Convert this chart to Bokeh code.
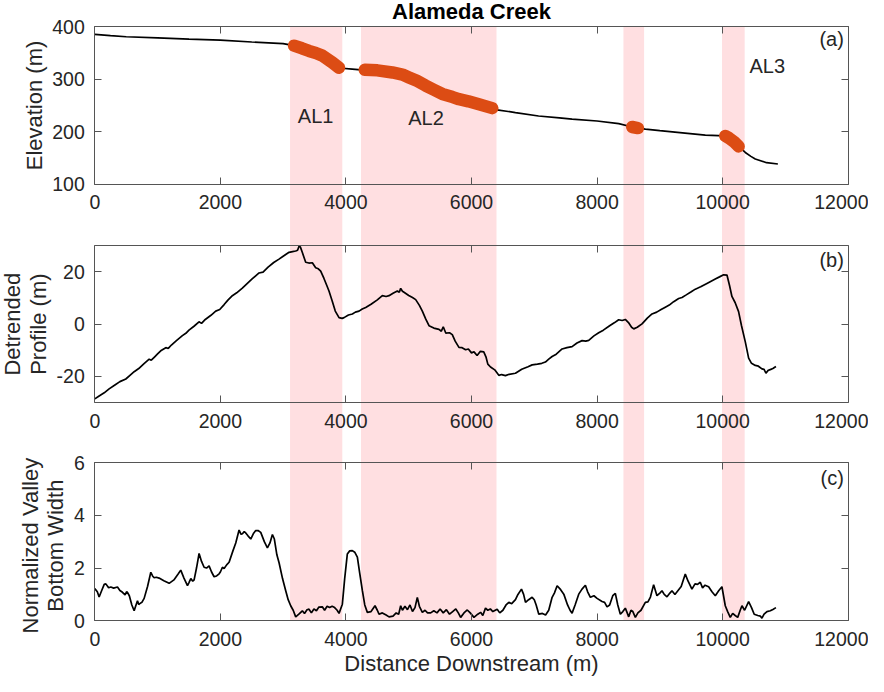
import math
from bokeh.plotting import figure
from bokeh.models import (Range1d, FixedTicker, LinearAxis, BoxAnnotation, Label)
from bokeh.embed import file_html
from bokeh.resources import INLINE

# ---------------- data ----------------
x_ticks = [0, 2000, 4000, 6000, 8000, 10000, 12000]
elev_ticks = [100, 200, 300, 400]
det_ticks = [-20, 0, 20]
vbw_ticks = [0, 2, 4, 6]

band_left = [3110, 4240, 8420, 9990]
band_right = [3942, 6398, 8749, 10351]

elev_x = [0, 250, 500, 1000, 1500, 2000, 2500, 3000, 3173, 3412, 3624, 3890, 3942,
          4100, 4240, 4300, 4740, 5000, 5270, 5540, 5800, 6120, 6330, 6405, 6700,
          7068, 7400, 7602, 8000, 8345, 8560, 8650, 8769, 9000, 9400, 9724, 10042,
          10150, 10255, 10361, 10450, 10520, 10700, 10880]
elev_y = [385.5, 383, 381, 379, 376.5, 374.5, 371, 368, 364, 354, 345, 322, 321,
          319.5, 318, 318, 313, 303, 288, 272, 262, 252, 244, 241.8, 236.5,
          230, 226.5, 224, 220.5, 215.5, 209, 207, 205, 202, 197.5, 193.5, 192,
          182, 172, 160.5, 153, 148, 141, 138.5]

al1_x = [3173, 3300, 3412, 3520, 3624, 3783, 3890]
al1_y = [364, 359, 354, 350, 345, 332, 322]
al2_x = [4300, 4500, 4740, 4900, 5004, 5130, 5268, 5400, 5534, 5700, 5800, 5950, 6118, 6330]
al2_y = [318, 317, 313, 309, 303.5, 297, 288, 280, 272, 266, 262, 258, 252.5, 245]
al3a_x = [8560, 8650]
al3a_y = [209, 207]
al3b_x = [10042, 10100, 10180, 10255]
al3b_y = [192, 188, 181, 172]

det_x = [0, 69, 150, 228, 320, 400, 494, 560, 627, 700, 780, 866, 900, 950, 1000,
         1050, 1131, 1170, 1220, 1300, 1395, 1450, 1500, 1580, 1660, 1700, 1760,
         1850, 1926, 1990, 2060, 2120, 2191, 2260, 2350, 2430, 2510, 2616, 2680,
         2760, 2850, 2934, 3000, 3094, 3150, 3200, 3230, 3253, 3275, 3306, 3359,
         3410, 3465, 3518, 3560, 3598, 3650, 3700, 3730, 3780, 3830, 3890, 3940,
         3970, 4040, 4103, 4150, 4209, 4260, 4315, 4400, 4500, 4580, 4640, 4686,
         4750, 4819, 4850, 4872, 4900, 4925, 5000, 5060, 5111, 5170, 5217, 5270,
         5323, 5400, 5482, 5520, 5550, 5590, 5650, 5694, 5740, 5800, 5850, 5906,
         5950, 6000, 6040, 6089, 6142, 6195, 6230, 6260, 6303, 6370, 6435, 6480,
         6541, 6600, 6700, 6800, 6900, 6966, 7050, 7120, 7177, 7230, 7284, 7350,
         7443, 7520, 7602, 7680, 7761, 7820, 7867, 7950, 8026, 8100, 8200, 8280,
         8344, 8400, 8450, 8500, 8550, 8584, 8640, 8716, 8800, 8875, 8950, 9020,
         9087, 9150, 9220, 9300, 9353, 9420, 9500, 9565, 9650, 9750, 9883, 9950,
         10016, 10069, 10110, 10148, 10200, 10254, 10300, 10361, 10414, 10460,
         10520, 10570, 10626, 10660, 10690, 10720, 10759, 10800, 10849]
det_y = [-28.6, -27.5, -26.3, -24.8, -23.3, -22.0, -21.0, -19.6, -18.2, -17.0, -15.2,
         -13.4, -13.8, -12.6, -11.4, -10.2, -9.0, -9.3, -8.0, -6.3, -4.4, -3.5, -2.3,
         -0.8, 0.9, 0.3, 1.8, 3.4, 5.0, 5.6, 7.5, 9.2, 10.9, 12.0, 13.8, 15.6, 17.4,
         19.6, 19.9, 21.8, 23.6, 24.9, 26.0, 27.5, 27.8, 28.0, 28.3, 29.8, 29.5, 27.4,
         23.7, 23.4, 23.5, 21.6, 21.2, 20.3, 17.5, 14.5, 12.7, 9.0, 5.0, 2.5, 2.2, 2.5,
         3.5, 3.9, 4.6, 5.0, 5.8, 6.4, 7.6, 9.3, 10.9, 10.6, 10.9, 11.8, 12.7, 12.2,
         13.7, 12.6, 12.2, 11.0, 10.2, 9.4, 7.2, 5.0, 2.0, -0.6, -1.5, -2.0, -2.7,
         -1.0, -3.4, -3.3, -4.0, -6.5, -8.9, -9.0, -9.8, -9.5, -11.0, -10.6, -12.0,
         -10.4, -10.6, -12.5, -15.3, -16.4, -17.5, -19.6, -19.3, -19.7, -19.2, -18.8,
         -17.3, -16.3, -15.6, -15.3, -15.0, -14.5, -13.4, -12.4, -11.5, -9.5, -9.0,
         -8.6, -7.2, -6.3, -6.5, -6.2, -4.5, -3.3, -2.3, -0.6, 0.6, 1.7, 1.4, 1.8,
         0.6, -1.2, -1.8, -1.2, 0.1, 2.3, 3.9, 4.6, 5.6, 6.5, 7.3, 8.6, 9.8, 10.2,
         11.2, 12.4, 13.4, 14.3, 15.6, 17.3, 18.1, 18.9, 18.8, 14.8, 10.6, 8.2, 4.8,
         -0.5, -6.8, -13.0, -15.0, -15.8, -16.1, -17.1, -17.3, -18.8, -17.8, -17.4,
         -17.0, -16.2]

vbw_x = [0, 40, 69, 110, 150, 176, 220, 255, 300, 361, 400, 441, 483, 505, 520, 550,
         590, 627, 650, 680, 700, 717, 750, 786, 840, 892, 920, 945, 980, 1024, 1100,
         1184, 1260, 1330, 1369, 1420, 1476, 1500, 1529, 1560, 1582, 1620, 1661, 1700,
         1741, 1780, 1820, 1860, 1900, 1940, 1980, 2000, 2033, 2060, 2100, 2139, 2200,
         2245, 2298, 2330, 2351, 2380, 2404, 2440, 2484, 2530, 2563, 2600, 2643, 2700,
         2749, 2790, 2829, 2860, 2900, 2935, 2990, 3041, 3080, 3120, 3160, 3200, 3250,
         3306, 3340, 3380, 3412, 3450, 3490, 3530, 3570, 3624, 3660, 3700, 3740, 3780,
         3820, 3860, 3890, 3943, 3980, 4022, 4060, 4102, 4140, 4182, 4220, 4262, 4300,
         4341, 4400, 4463, 4500, 4527, 4580, 4640, 4686, 4750, 4800, 4840, 4872, 4900,
         4940, 4980, 5020, 5060, 5100, 5137, 5170, 5217, 5260, 5300, 5350, 5400, 5450,
         5500, 5550, 5600, 5650, 5700, 5750, 5790, 5827, 5880, 5933, 5980, 6039, 6100,
         6145, 6180, 6223, 6260, 6300, 6340, 6409, 6450, 6500, 6550, 6595, 6640, 6700,
         6740, 6796, 6830, 6860, 6910, 6966, 7000, 7030, 7072, 7130, 7180, 7230, 7284,
         7320, 7364, 7420, 7470, 7530, 7570, 7602, 7650, 7708, 7760, 7814, 7850, 7894,
         7950, 8000, 8079, 8120, 8159, 8200, 8250, 8291, 8330, 8371, 8410, 8450, 8480,
         8504, 8540, 8570, 8610, 8650, 8700, 8769, 8810, 8850, 8901, 8954, 9000, 9034,
         9070, 9114, 9160, 9193, 9240, 9290, 9340, 9405, 9450, 9511, 9560, 9600, 9644,
         9680, 9720, 9777, 9830, 9883, 9940, 9989, 10042, 10080, 10122, 10160, 10200,
         10240, 10280, 10308, 10350, 10414, 10460, 10503, 10560, 10600, 10626, 10660,
         10706, 10760, 10800, 10849]
vbw_y = [1.22, 1.10, 0.90, 1.15, 1.38, 1.40, 1.25, 1.28, 1.24, 1.28, 1.15, 1.08, 0.98,
         1.10, 1.08, 0.95, 0.60, 0.38, 0.55, 0.76, 0.62, 0.65, 0.70, 0.85, 1.30, 1.84,
         1.70, 1.63, 1.65, 1.62, 1.52, 1.42, 1.55, 1.78, 1.92, 1.62, 1.33, 1.45, 1.60,
         1.50, 1.55, 2.00, 2.55, 2.25, 2.03, 2.00, 2.08, 1.85, 1.67, 1.70, 1.78, 1.85,
         2.03, 1.98, 2.12, 2.22, 2.65, 2.95, 3.44, 3.28, 3.30, 3.38, 3.33, 3.22, 3.10,
         3.32, 3.42, 3.42, 3.35, 3.00, 2.76, 2.95, 3.27, 3.10, 2.50, 2.20, 1.60, 1.14,
         0.80, 0.57, 0.40, 0.15, 0.25, 0.38, 0.28, 0.42, 0.44, 0.30, 0.45, 0.38, 0.52,
         0.53, 0.40, 0.55, 0.50, 0.55, 0.50, 0.40, 0.28, 0.63, 1.60, 2.53, 2.65, 2.66,
         2.60, 2.41, 1.80, 1.14, 0.60, 0.32, 0.35, 0.57, 0.40, 0.25, 0.30, 0.22, 0.15,
         0.18, 0.30, 0.25, 0.57, 0.40, 0.55, 0.42, 0.60, 0.35, 0.50, 0.89, 0.55, 0.32,
         0.40, 0.30, 0.30, 0.38, 0.30, 0.45, 0.30, 0.42, 0.25, 0.35, 0.45, 0.30, 0.13,
         0.30, 0.41, 0.30, 0.13, 0.25, 0.32, 0.20, 0.48, 0.40, 0.45, 0.35, 0.44, 0.30,
         0.40, 0.60, 0.70, 0.65, 0.80, 1.00, 1.20, 1.00, 0.70, 0.80, 0.89, 0.80, 0.60,
         0.25, 0.28, 0.22, 0.40, 0.89, 1.05, 1.33, 1.18, 1.01, 0.60, 0.40, 0.29, 0.60,
         1.01, 1.20, 1.35, 1.10, 0.89, 0.95, 0.85, 0.73, 0.70, 0.53, 0.60, 0.95, 1.04,
         0.60, 0.25, 0.35, 0.48, 0.30, 0.15, 0.40, 0.35, 0.13, 0.30, 0.40, 0.70, 0.72,
         0.90, 1.37, 0.95, 1.05, 1.14, 1.00, 0.91, 1.05, 1.14, 1.00, 1.15, 1.30, 1.77,
         1.50, 1.20, 1.40, 1.38, 1.46, 1.25, 1.35, 1.29, 1.10, 0.95, 1.15, 1.29, 0.57,
         0.35, 0.13, 0.28, 0.20, 0.13, 0.40, 0.57, 0.40, 0.73, 0.50, 0.25, 0.20, 0.18,
         0.10, 0.25, 0.35, 0.38, 0.43, 0.50]

# ---------------- style / layout ----------------
FONT = "Liberation Sans"
INK = "#262626"
BOX = "#555555"
PINK = "#FFDFE1"
ORANGE = "#DC4C14"
TICK_FS = "19.5px"
LABEL_FS = "22px"
LW = 1.7

W, H = 868, 676                 # canvas size (frame fills the whole canvas)
PX_X0, PX_X1 = 94.3, 847.7      # pixel columns of x = 0 and x = 12000
# pixel rows (from canvas top) of each stacked panel's top and bottom edge
PANEL_PX = {"a": (26.3, 183.7), "b": (245.3, 402.0), "c": (462.0, 620.3)}
PANEL_LIM = {"a": (100, 400), "b": (-30, 30), "c": (0, 6)}
X_LIM = (0, 12000)
X_PER_PX = (X_LIM[1] - X_LIM[0]) / (PX_X1 - PX_X0)


def x_at(px):
    """x data value of a pixel column (for text placed left of the axes)"""
    return X_LIM[0] + (px - PX_X0) * X_PER_PX


def panel_range(name):
    top_px, bot_px = PANEL_PX[name]
    lo, hi = PANEL_LIM[name]
    per = (hi - lo) / (bot_px - top_px)
    return Range1d(start=lo - (H - bot_px) * per, end=hi + top_px * per)


# default y range measures pixels from the canvas top (used for bands / titles)
p = figure(width=W, height=H,
           x_range=Range1d(x_at(0), x_at(W)), y_range=Range1d(H, 0),
           output_backend="svg", toolbar_location=None,
           x_axis_location=None, y_axis_location=None,
           min_border=0, min_border_left=0, min_border_right=0,
           min_border_top=0, min_border_bottom=0)
p.extra_y_ranges = {n: panel_range(n) for n in ("a", "b", "c")}
for g in p.grid:
    g.visible = False
p.outline_line_color = None
p.background_fill_color = "white"
p.border_fill_color = "white"


def make_axis(ticks, show, **kw):
    ax = LinearAxis(ticker=FixedTicker(ticks=ticks, minor_ticks=[]),
                    axis_line_color=BOX, axis_line_width=1,
                    major_tick_line_color=BOX, major_tick_in=7, major_tick_out=0,
                    minor_tick_line_color=None, minor_tick_in=0, minor_tick_out=0,
                    major_label_text_font=FONT, major_label_text_font_size=TICK_FS,
                    major_label_text_color=INK, **kw)
    if not show:
        ax.major_label_text_color = None
        ax.major_label_text_font_size = "1px"
        ax.major_label_standoff = 0
    return ax


def add_panel_axes(name, yticks, overrides=None):
    lo, hi = PANEL_LIM[name]
    left = make_axis(yticks, True, y_range_name=name, fixed_location=X_LIM[0],
                     bounds=(lo, hi), major_label_standoff=10)
    if overrides:
        left.major_label_overrides = overrides
    right = make_axis(yticks, False, y_range_name=name, fixed_location=X_LIM[1],
                      bounds=(lo, hi))
    bottom = make_axis(x_ticks, True, y_range_name=name, fixed_location=lo,
                       bounds=X_LIM, major_label_standoff=11)
    top = make_axis(x_ticks, False, y_range_name=name, fixed_location=hi,
                    bounds=X_LIM)
    p.add_layout(left, "left")
    p.add_layout(right, "right")
    p.add_layout(bottom, "below")
    p.add_layout(top, "above")


def add_text(name, x, y, text, align="center", size="20px", style="normal",
             color=INK, angle=0.0):
    kw = {} if name is None else {"y_range_name": name}
    p.add_layout(Label(x=x, y=y, text=text, text_font=FONT, text_font_size=size,
                       text_font_style=style, text_color=color, text_align=align,
                       text_baseline="middle", angle=angle, **kw))


def panel_mid(name):
    return (PANEL_PX[name][0] + PANEL_PX[name][1]) / 2


UP = math.pi / 2

# shaded reaches, spanning all three panels (from top of (a) to bottom of (c))
for l, r in zip(band_left, band_right):
    p.add_layout(BoxAnnotation(left=l, right=r, top=PANEL_PX["a"][0],
                               bottom=PANEL_PX["c"][1], fill_color=PINK,
                               fill_alpha=1.0, line_color=None, level="underlay"))

# title and axis titles
add_text(None, 6000, 11, "Alameda Creek", size="22px", style="bold", color="black")
add_text(None, 6000, 663, "Distance Downstream (m)", size=LABEL_FS)
add_text(None, x_at(34), panel_mid("a"), "Elevation (m)", size=LABEL_FS, angle=UP)
add_text(None, x_at(12), panel_mid("b"), "Detrended", size=LABEL_FS, angle=UP)
add_text(None, x_at(38), panel_mid("b"), "Profile (m)", size=LABEL_FS, angle=UP)
add_text(None, x_at(30), panel_mid("c") + 4, "Normalized Valley", size=LABEL_FS,
         angle=UP)
add_text(None, x_at(55), panel_mid("c") + 4, "Bottom Width", size=LABEL_FS, angle=UP)

# ---------------- panel (a) ----------------
add_panel_axes("a", elev_ticks)
p.line(elev_x, elev_y, y_range_name="a", line_color="black", line_width=LW)
for xs, ys in [(al1_x, al1_y), (al2_x, al2_y), (al3a_x, al3a_y), (al3b_x, al3b_y)]:
    p.line(xs, ys, y_range_name="a", line_color=ORANGE, line_width=12.5,
           line_cap="round", line_join="round")
add_text("a", 3517, 230, "AL1")
add_text("a", 5276, 227, "AL2")
add_text("a", 10711, 326, "AL3")
add_text("a", 11931, 376, "(a)", align="right")

# ---------------- panel (b) ----------------
add_panel_axes("b", det_ticks, overrides={-20: "-20"})
p.line(det_x, det_y, y_range_name="b", line_color="black", line_width=LW)
add_text("b", 11931, 24.5, "(b)", align="right")

# ---------------- panel (c) ----------------
add_panel_axes("c", vbw_ticks)
p.line(vbw_x, vbw_y, y_range_name="c", line_color="black", line_width=LW)
add_text("c", 11931, 5.43, "(c)", align="right")

open("out.html", "w").write(file_html(p, INLINE))
